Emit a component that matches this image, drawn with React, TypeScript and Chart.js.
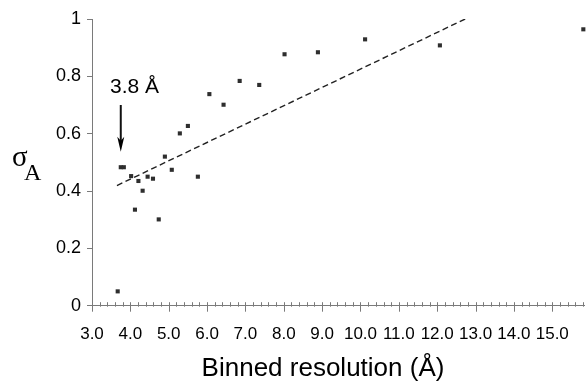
import React, { useEffect, useRef } from "react";
import { Chart, registerables } from "chart.js";

Chart.register(...registerables);

// Data
const pointX = [3.67, 3.75, 3.83, 4.02, 4.12, 4.21, 4.32, 4.45, 4.59, 4.74, 4.9, 5.08, 5.29, 5.5, 5.76, 6.06, 6.43, 6.85, 7.36, 8.02, 8.89, 10.12, 12.07, 15.81];
const pointY = [0.05, 0.483, 0.483, 0.452, 0.335, 0.435, 0.401, 0.45, 0.443, 0.301, 0.52, 0.474, 0.601, 0.627, 0.45, 0.738, 0.701, 0.784, 0.77, 0.877, 0.884, 0.929, 0.908, 0.964];
const fitX = [3.65, 12.73];
const fitY = [0.419, 1.0];
const xTickValues = [3, 4, 5, 6, 7, 8, 9, 10, 11, 12, 13, 14, 15];
const yTickValues = [0, 0.2, 0.4, 0.6, 0.8, 1];
const xMin = 3;
const xMax = 15.83;
const minorStep = 0.2;
const arrowAt = 3.75;
const arrowLabel = "3.8 Å";
const xTitle = "Binned resolution (Å)";

const annotPlugin = {
  id: "annot",
  afterDraw(chart: any) {
    const { ctx, chartArea } = chart;
    const xs = chart.scales.x;
    const ys = chart.scales.y;
    ctx.save();
    // x-axis major/minor ticks
    ctx.strokeStyle = "#7a7a7a";
    ctx.lineWidth = 1;
    const n = Math.floor((xMax - xMin) / minorStep + 1e-6);
    for (let i = 0; i <= n; i++) {
      const v = xMin + i * minorStep;
      const px = Math.round(xs.getPixelForValue(v)) + 0.5;
      const major = i % 5 === 0;
      ctx.beginPath();
      ctx.moveTo(px, chartArea.bottom - 3.5);
      ctx.lineTo(px, chartArea.bottom + (major ? 6 : 1));
      ctx.stroke();
    }
    // x title
    ctx.fillStyle = "#000";
    ctx.font = '26px "Liberation Sans", Arial, sans-serif';
    ctx.textAlign = "center";
    ctx.textBaseline = "alphabetic";
    ctx.fillText(xTitle, 323, 376);
    // y title sigma_A
    ctx.textAlign = "left";
    ctx.font = '29px "Liberation Serif", "Times New Roman", serif';
    ctx.fillText("σ", 12, 166);
    ctx.font = '24px "Liberation Serif", "Times New Roman", serif';
    ctx.fillText("A", 24, 180);
    // annotation
    const ax = xs.getPixelForValue(arrowAt);
    ctx.font = '21px "Liberation Sans", Arial, sans-serif';
    ctx.fillText(arrowLabel, 110, 93);
    ctx.strokeStyle = "#111";
    ctx.lineWidth = 2;
    ctx.beginPath();
    ctx.moveTo(ax, ys.getPixelForValue(0.7));
    ctx.lineTo(ax, ys.getPixelForValue(0.57));
    ctx.stroke();
    const tipY = ys.getPixelForValue(0.537);
    ctx.beginPath();
    ctx.moveTo(ax - 3.5, tipY - 15);
    ctx.lineTo(ax, tipY - 11);
    ctx.lineTo(ax + 3.5, tipY - 15);
    ctx.lineTo(ax, tipY);
    ctx.closePath();
    ctx.fill();
    ctx.restore();
  },
};

export default function App() {
  const ref = useRef<HTMLCanvasElement | null>(null);
  useEffect(() => {
    if (!ref.current) return;
    const chart = new Chart(ref.current, {
      type: "scatter",
      data: {
        datasets: [
          {
            label: "sigmaA",
            data: pointX.map((x, i) => ({ x, y: pointY[i] })),
            pointStyle: "rect",
            pointRadius: 2.9,
            pointHoverRadius: 2.9,
            pointBorderWidth: 0,
            backgroundColor: "#2e2e2e",
            borderColor: "#2e2e2e",
            clip: false as any,
          },
          {
            type: "line" as any,
            label: "fit",
            data: fitX.map((x, i) => ({ x, y: fitY[i] })),
            showLine: true,
            borderColor: "#222",
            borderWidth: 1.4,
            borderDash: [6, 3.5],
            pointRadius: 0,
            fill: false,
          },
        ],
      },
      options: {
        animation: false,
        responsive: false,
        maintainAspectRatio: false,
        layout: { padding: { top: 19, right: 0, left: 0, bottom: 0 } },
        plugins: { legend: { display: false }, tooltip: { enabled: false } },
        scales: {
          x: {
            type: "linear",
            min: xMin,
            max: xMax,
            afterBuildTicks: (s: any) => {
              s.ticks = xTickValues.map((v) => ({ value: v }));
            },
            afterFit: (s: any) => {
              s.height = 75.3;
            },
            ticks: {
              callback: (v: any) => Number(v).toFixed(1),
              color: "#000",
              font: { family: '"Liberation Sans", Arial, sans-serif', size: 17 },
              padding: 18,
              maxRotation: 0,
              autoSkip: false,
            },
            grid: { display: false, drawTicks: false },
            border: { display: true, color: "#7a7a7a", width: 1 },
          },
          y: {
            type: "linear",
            min: 0,
            max: 1,
            afterBuildTicks: (s: any) => {
              s.ticks = yTickValues.map((v) => ({ value: v }));
            },
            afterFit: (s: any) => {
              s.width = 92;
            },
            ticks: {
              callback: (v: any) => String(Math.round(Number(v) * 10) / 10),
              color: "#000",
              font: { family: '"Liberation Sans", Arial, sans-serif', size: 18 },
              padding: 6,
            },
            grid: { drawOnChartArea: false, drawTicks: true, tickLength: 5, color: "#7a7a7a" },
            border: { display: true, color: "#7a7a7a", width: 1 },
          },
        },
      },
      plugins: [annotPlugin],
    });
    return () => chart.destroy();
  }, []);
  return (
    <div style={{ position: "fixed", left: 0, top: 0, width: 587, height: 381, background: "#fff" }}>
      <canvas ref={ref} width={587} height={381} style={{ display: "block", width: 587, height: 381 }} />
    </div>
  );
}
